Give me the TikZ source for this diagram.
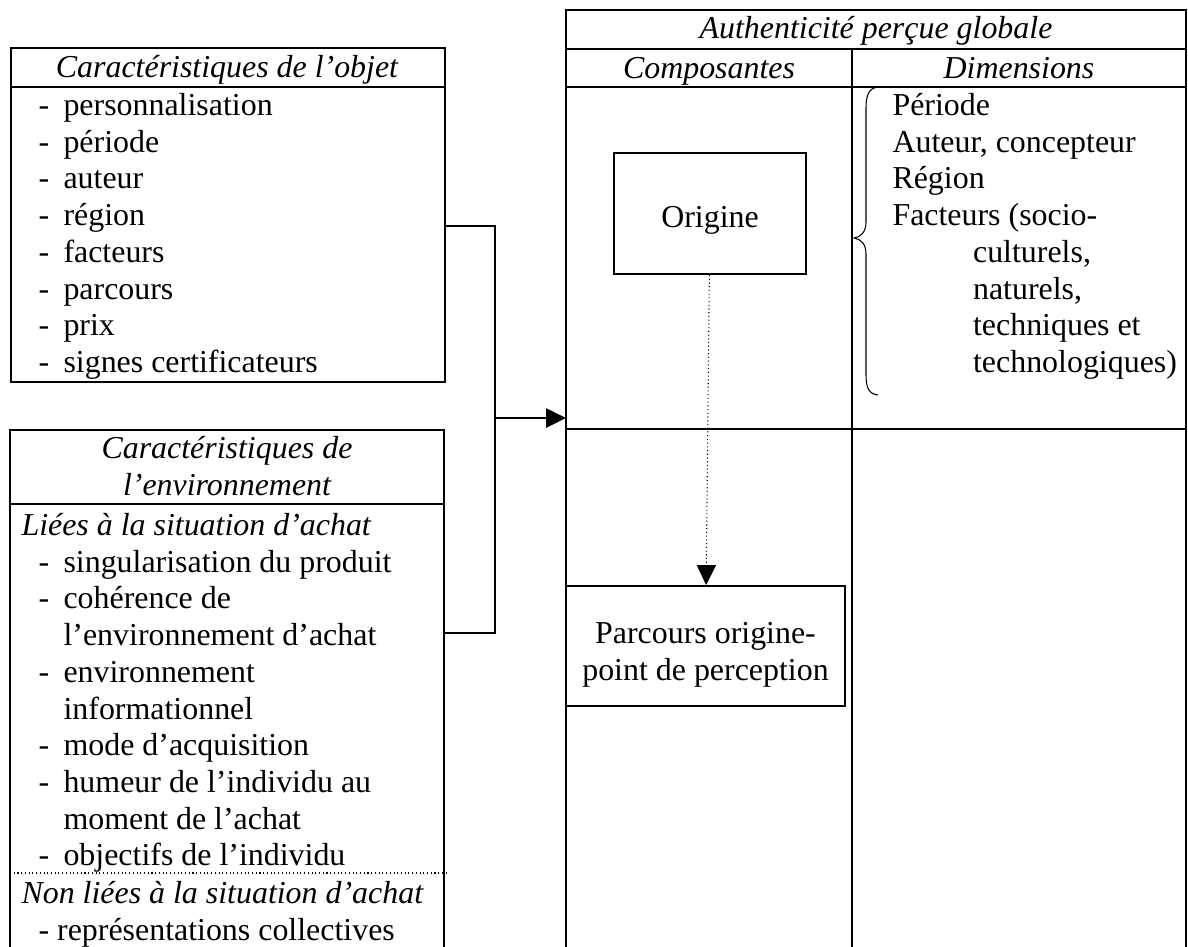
\documentclass[tikz,border=0pt]{standalone}
\usepackage{fontspec}
\setmainfont{Liberation Serif}
\usetikzlibrary{positioning, arrows.meta}

\newcommand{\dashitem}{\makebox[9.4pt][l]{-}}
\newcommand{\envitem}{\hspace*{6.4pt}\dashitem}
\newcommand{\envcont}{\hspace*{15.8pt}}
\newcommand{\dimcont}{\hspace*{30.3pt}}

\begin{document}
\begin{tikzpicture}[
  x=0.376pt, y=-0.376pt,
  frame/.style={draw, line width=0.75pt},
  txt/.style={inner sep=0pt, font=\fontsize{12}{13.8}\selectfont},
  list/.style={txt, align=left, anchor=north west},
  title/.style={inner sep=0pt, font=\fontsize{12}{13.8}\selectfont\itshape, anchor=base},
  compbox/.style={draw, line width=0.75pt, inner sep=0pt},
  comptext/.style={txt, align=center},
  arrow/.style={-{Triangle[length=7.5pt, width=7.2pt]}, line width=0.75pt},
  dotarrow/.style={-{Triangle[length=7.5pt, width=7.2pt]}, densely dotted, line width=0.4pt}
]
  \useasboundingbox (0,0) rectangle (1188,947);

  \node[frame, anchor=north west, minimum width=163.2pt, minimum height=125.6pt, inner sep=0pt] (objbox) at (10,47) {};
  \draw[frame] (10,87) -- (444,87);
  \draw[frame] (10,947) -- (10,430) -- (444,430) -- (444,947);
  \draw[frame] (10,504) -- (444,504);
  \draw[densely dotted, line width=0.4pt] (10,873) -- (446,873);

  \draw[frame] (566,947) -- (566,10) -- (1186,10) -- (1186,947);
  \draw[frame] (566,49) -- (1186,49);
  \draw[frame] (566,87) -- (1186,87);
  \draw[frame] (566,429) -- (1186,429);
  \draw[frame] (852,49) -- (852,947);

  \node[title] (objtitle) at (227,77) {Caractéristiques de l'objet};
  \node[list] (objlist) at (38,89.3) {\strut\dashitem personnalisation\\
    \dashitem période\\
    \dashitem auteur\\
    \dashitem région\\
    \dashitem facteurs\\
    \dashitem parcours\\
    \dashitem prix\\
    \dashitem signes certificateurs};

  \node[txt, font=\fontsize{12}{13.8}\selectfont\itshape, align=center, anchor=north] (envtitle) at (227,432.3) {\strut Caractéristiques de\\l'environnement};
  \node[list] (envlist) at (21,509.3) {\strut\textit{Liées à la situation d'achat}\\
    \envitem singularisation du produit\\
    \envitem cohérence de\\
    \envcont l'environnement d'achat\\
    \envitem environnement\\
    \envcont informationnel\\
    \envitem mode d'acquisition\\
    \envitem humeur de l'individu au\\
    \envcont moment de l'achat\\
    \envitem objectifs de l'individu};
  \node[list] (nonlist) at (21,877.3) {\strut\textit{Non liées à la situation d'achat}\\
    \hspace*{6.4pt}- représentations collectives};

  \node[title] (authtitle) at (876,38) {Authenticité perçue globale};
  \node[title] (comptitle) at (709,78) {Composantes};
  \node[title] (dimtitle) at (1019,78) {Dimensions};

  \node[list] (dimlist) at (892,89.3) {\strut Période\\
    Auteur, concepteur\\
    Région\\
    Facteurs (socio-\\
    \dimcont culturels,\\
    \dimcont naturels,\\
    \dimcont techniques et\\
    \dimcont technologiques)};
  \draw[line width=0.4pt] (878,87) .. controls (869,88) and (866,95) .. (866,108) -- (866,222)
    .. controls (866,232) and (861,237) .. (854,238)
    .. controls (861,239) and (866,244) .. (866,254) -- (866,375)
    .. controls (866,388) and (869,394) .. (878,395);

  \node[compbox, minimum width=72.2pt, minimum height=45.5pt] (origine) at (710,213.5) {};
  \node[comptext] (originetxt) at (710,220.5) {Origine};
  \node[compbox, minimum width=104.9pt, minimum height=45.1pt] (parcours) at (705.5,646) {};
  \node[comptext] (parcourstxt) at (705.5,655) {Parcours origine-\\point de perception};
  \draw[dotarrow] (origine) -- (parcours);

  \coordinate (jtop) at (495,226);
  \coordinate (jmid) at (495,418);
  \coordinate (jbot) at (495,633);
  \coordinate (envedge) at (444,633);
  \coordinate (authin) at (566,418);
  \draw[frame] (objbox.east |- jtop) -- (jtop) -- (jbot) -- (envedge);
  \draw[arrow] (jmid) -- (authin);
\end{tikzpicture}
\end{document}
